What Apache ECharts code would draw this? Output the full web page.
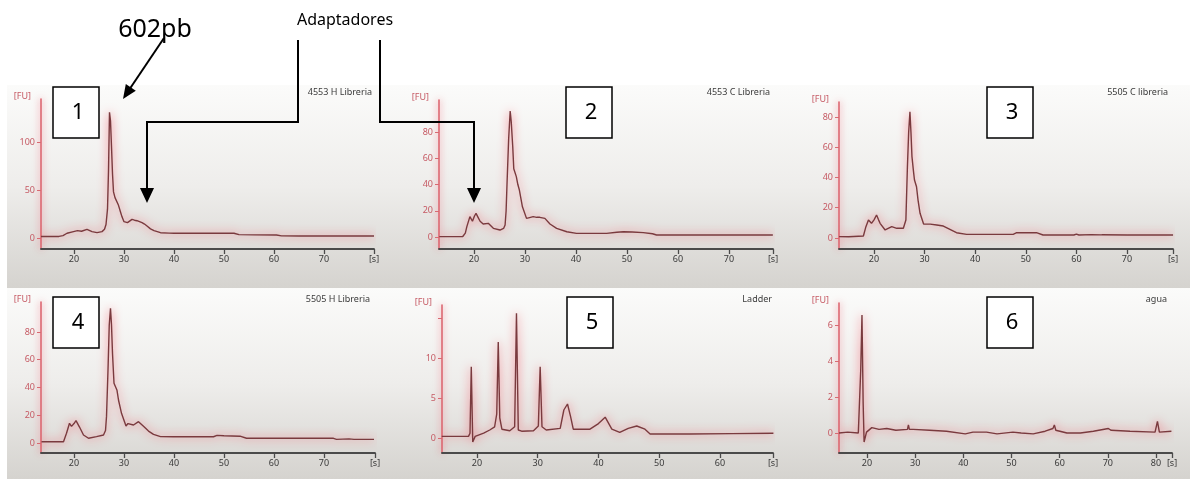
<!DOCTYPE html>
<html><head><meta charset="utf-8">
<script src="https://cdn.jsdelivr.net/npm/echarts@6/dist/echarts.min.js"></script>
<style>html,body{margin:0;padding:0;background:#fff}#c{width:1190px;height:479px}</style>
</head><body><div id="c"></div>
<script>
// ---- data ----
const titles = ['4553 H Libreria', '4553 C Libreria', '5505 C libreria', '5505 H Libreria', 'Ladder', 'agua'];
const panelNumbers = ['1', '2', '3', '4', '5', '6'];
const xTicksA = [20, 30, 40, 50, 60, 70];
const xTicksLadder = [20, 30, 40, 50, 60];
const xTicksAgua = [20, 30, 40, 50, 60, 70, 80];
const yTicks1 = [0, 50, 100];
const yTicks80 = [0, 20, 40, 60, 80];
const yTicksLadderLabels = [0, 5, 10];
const yTicksLadder = [0, 5, 10, 15];
const yTicksAgua = [0, 2, 4, 6];

const s4553H = [[13.4,1.5],[15,1.5],[17,1.6],[17.8,2.5],[18.6,4.9],[19.9,6.6],[20.7,7.6],[21.5,7],[22.6,9],[23.6,6.6],[24.6,5.5],[25.6,6.6],[26.1,9],[26.4,14],[26.7,30],[26.9,70],[27.1,131],[27.3,122],[27.5,95],[27.7,67],[27.9,48],[28.2,42],[28.5,40],[28.9,34],[29.3,27],[29.6,22],[30.0,17],[30.3,15],[30.7,16],[31.0,17.5],[31.6,19.4],[32.1,18.5],[32.6,18],[33.1,17],[33.6,16],[34.1,14.5],[34.6,12.5],[35.3,9.5],[36.0,7.6],[37.3,5.5],[39,5],[40,4.9],[45,4.9],[50,5],[52,4.9],[53,3.5],[56,3.2],[60.5,3.1],[61.5,2.2],[65,2],[70,2],[75,2],[80,2]];
const s4553C = [[13.2,0.3],[15,0.3],[17.8,0.4],[18.3,3],[18.6,7.9],[19.2,15.5],[19.7,12],[20.1,16],[20.4,18],[20.8,15],[21.2,12],[21.8,9.9],[22.8,10.4],[23.8,6.6],[25.1,5.3],[25.8,6.5],[26.1,9.1],[26.3,20],[26.5,43],[26.8,75],[27.1,96],[27.3,88],[27.6,68.8],[27.8,52],[28.0,51],[28.3,46],[28.6,40],[28.9,35.8],[29.5,23],[30.3,14.2],[30.9,14.8],[31.6,15.5],[32.3,15],[32.9,15],[33.9,14.2],[34.9,9.9],[36.2,6.6],[38.2,4],[40.1,2.8],[46,2.8],[48,3.6],[49.3,4],[51,3.8],[53.2,3.3],[55,2.5],[55.8,1.5],[60,1.5],[70,1.5],[78.6,1.5]];
const s5505C = [[13.1,0.9],[15,0.8],[17.9,1.3],[18.4,7.5],[18.9,11.9],[19.5,9.7],[20.0,12],[20.5,15.2],[20.9,12],[21.2,9.7],[22.2,5.3],[23.5,7.5],[24.5,6.4],[25.8,6.4],[26.3,11.9],[26.6,47],[26.85,70],[27.1,83.5],[27.3,70],[27.5,53.8],[27.8,44],[28.0,38.3],[28.4,33.9],[28.7,25],[29.1,16.3],[29.8,9.2],[31.1,9.2],[32.4,8.6],[33.7,7.9],[35,5.7],[36.3,3.5],[38.3,2.4],[47.5,2.4],[48.2,3.5],[52.1,3.5],[53.4,2],[59.5,2],[60,2.6],[60.5,2],[63,2.2],[65,2.1],[70,2],[79.1,2]];
const s5505H = [[13.5,0.9],[17.9,0.9],[18.5,7],[19.1,14.2],[19.5,12],[20.0,14],[20.4,16.1],[21.1,11.5],[21.9,5.8],[22.9,3.4],[24.5,4.6],[25.9,5.8],[26.3,9],[26.5,19],[26.8,52.6],[27.05,85],[27.3,97],[27.5,85],[27.7,64.6],[28.0,43],[28.4,43],[28.6,38],[28.9,31],[29.5,21.4],[30.4,12.3],[30.8,14],[31.2,15.4],[31.9,13],[32.9,15.4],[33.9,12],[34.9,8.6],[35.9,6.2],[37.3,4.6],[39.9,4.5],[47.9,4.5],[48.6,5.5],[50,5.2],[53.2,4.9],[54.5,3.4],[71.9,3.4],[72.5,2.6],[75,3],[76,2.6],[80,2.6]];
const sLadder = [[14.2,0.2],[18.6,0.2],[18.85,0.6],[19.06,8.9],[19.3,-0.5],[19.7,0.2],[21.1,0.6],[22.1,1.0],[22.9,1.4],[23.25,3],[23.5,12.0],[23.75,2.5],[24.1,1.1],[25.4,0.9],[26.2,1.4],[26.5,15.6],[26.8,1.0],[27.35,0.85],[29.3,0.9],[30.1,1.5],[30.4,8.9],[30.7,1.4],[31.4,1.0],[33.7,1.2],[34.3,3.5],[34.9,4.25],[35.4,2.7],[35.85,1.1],[38.6,1.1],[40,1.8],[41.1,2.6],[42.2,1.1],[43.5,0.7],[44.9,1.2],[46.3,1.5],[47.65,1.1],[48.5,0.5],[55,0.5],[62,0.55],[68.8,0.6]];
const sAgua = [[14.2,0],[16,0.05],[18.2,0],[18.7,3.5],[18.96,6.55],[19.2,1.7],[19.4,-0.5],[19.9,0.05],[21,0.3],[22.5,0.2],[24.1,0.25],[26,0.15],[28.4,0.2],[28.6,0.45],[28.8,0.2],[29.6,0.2],[33,0.15],[36.5,0.1],[40.4,-0.05],[42,0.05],[44.8,0.05],[47,-0.05],[50.3,0.05],[52,0],[54.5,-0.05],[57,0.1],[58.6,0.25],[58.9,0.45],[59.2,0.15],[61.5,0],[64.3,0],[67,0.1],[70.1,0.25],[70.4,0.35],[70.7,0.15],[74.6,0.1],[79.8,0.05],[80.3,0.65],[80.7,0.05],[83.2,0.1]];

// ---- layout ----
const panels = [
  {data: s4553H, g:{left:41,top:99,width:333,height:150}, x:[13.4,80], y:[-11.5,144.8], xt:xTicksA, yl:yTicks1, yt:yTicks1, tr:372, tt:88},
  {data: s4553C, g:{left:439,top:100,width:334,height:149}, x:[13.14,78.63], y:[-9.14,104.4], xt:xTicksA, yl:yTicks80, yt:yTicks80, tr:770, tt:88},
  {data: s5505C, g:{left:839,top:102,width:334,height:147}, x:[13.08,79.09], y:[-7.27,89.9], xt:xTicksA, yl:yTicks80, yt:yTicks80, tr:1168, tt:88},
  {data: s5505H, g:{left:41,top:302,width:334,height:151}, x:[13.4,80.2], y:[-7.2,101.6], xt:xTicksA, yl:yTicks80, yt:yTicks80, tr:370, tt:295},
  {data: sLadder, g:{left:442,top:305,width:331,height:148}, x:[14.24,68.73], y:[-1.875,16.625], xt:xTicksLadder, yl:yTicksLadderLabels, yt:yTicksLadder, tr:772, tt:295},
  {data: sAgua, g:{left:839,top:303,width:333,height:150}, x:[14.19,83.32], y:[-1.111,7.222], xt:xTicksAgua, yl:yTicksAgua, yt:yTicksAgua, tr:1167, tt:295}
];
const boxes = [[53,87],[566,87],[987,87],[53,297],[567,297],[987,297]];

const FONT = '"Noto Sans", "DejaVu Sans", sans-serif';
const grids = [], xAxes = [], yAxes = [], series = [], titleArr = [];
panels.forEach((p, i) => {
  grids.push(Object.assign({containLabel:false}, p.g));
  const xmax = p.x[1];
  const xtv = p.xt.concat([xmax]);
  xAxes.push({
    type:'value', gridIndex:i, min:p.x[0], max:xmax,
    axisLine:{show:true, onZero:false, lineStyle:{color:'#4a4a4a', width:1.8}},
    axisTick:{show:true, customValues:xtv, length:5, lineStyle:{color:'#4a4a4a', width:1.3}},
    axisLabel:{customValues:xtv, formatter:v => Math.abs(v - xmax) < 1e-6 ? '[s]' : String(v),
      fontSize:9, color:'#3a3a3a', margin:6, fontFamily:FONT},
    splitLine:{show:false}
  });
  yAxes.push({
    type:'value', gridIndex:i, min:p.y[0], max:p.y[1],
    name:'[FU]', nameLocation:'end', nameGap:-2,
    nameTextStyle:{color:'#c65a64', fontSize:9, align:'right', verticalAlign:'bottom', padding:[0,10,0,0], fontFamily:FONT},
    axisLine:{show:true, onZero:false, lineStyle:{color:'#dc6872', width:1.6, shadowBlur:7, shadowColor:'rgba(240,100,115,0.9)'}},
    axisTick:{show:true, customValues:p.yt, length:4, lineStyle:{color:'#d86a72'}},
    axisLabel:{customValues:p.yl, fontSize:9, color:'#c65a64', margin:6, fontFamily:FONT},
    splitLine:{show:false}
  });
  series.push({
    type:'line', xAxisIndex:i, yAxisIndex:i, data:p.data, showSymbol:false, symbol:'none',
    lineStyle:{color:'#7a3a3e', width:1.4, shadowBlur:10, shadowColor:'rgba(245,80,95,1)'},
    z:5
  });
  titleArr.push({text:titles[i], right:1190 - p.tr, top:p.tt, padding:0,
    textStyle:{fontSize:9, color:'#3a3a3a', fontWeight:'normal', fontFamily:FONT}});
});

const rowGrad = {type:'linear', x:0, y:0, x2:0, y2:1, colorStops:[
  {offset:0, color:'#fbfbfa'}, {offset:0.5, color:'#eeedeb'}, {offset:1, color:'#d5d3cf'}]};
const graphics = [
  {type:'rect', shape:{x:7, y:85, width:1183, height:203}, style:{fill:rowGrad}, z:-10, silent:true},
  {type:'rect', shape:{x:7, y:288, width:1183, height:191}, style:{fill:rowGrad}, z:-10, silent:true},
  {type:'text', x:155, y:30, style:{text:'602pb', fontSize:25, fontFamily:FONT, fill:'#000', align:'center', verticalAlign:'middle'}, z:100},
  {type:'text', x:345, y:20, style:{text:'Adaptadores', fontSize:16, fontFamily:FONT, fill:'#000', align:'center', verticalAlign:'middle'}, z:100},
  {type:'line', shape:{x1:164, y1:38, x2:129, y2:90}, style:{stroke:'#000', lineWidth:2}, z:100},
  {type:'polygon', shape:{points:[[123,99],[135.8,90.8],[125.8,84.0]]}, style:{fill:'#000'}, z:100},
  {type:'polyline', shape:{points:[[298,40],[298,122],[147,122],[147,190]]}, style:{stroke:'#000', lineWidth:2, fill:null}, z:100},
  {type:'polygon', shape:{points:[[140,188],[154,188],[147,203]]}, style:{fill:'#000'}, z:100},
  {type:'polyline', shape:{points:[[380,40],[380,122],[474,122],[474,190]]}, style:{stroke:'#000', lineWidth:2, fill:null}, z:100},
  {type:'polygon', shape:{points:[[467,188],[481,188],[474,203]]}, style:{fill:'#000'}, z:100}
];
boxes.forEach((b, i) => {
  graphics.push({type:'rect', shape:{x:b[0], y:b[1], width:46, height:51}, style:{fill:'#fff', stroke:'#000', lineWidth:1.5}, z:100});
  graphics.push({type:'text', x:b[0] + 25, y:b[1] + 26, style:{text:panelNumbers[i], fontSize:22, fontFamily:FONT, fill:'#000', align:'center', verticalAlign:'middle'}, z:101});
});

const chart = echarts.init(document.getElementById('c'), null, {renderer:'canvas'});
chart.setOption({
  animation:false,
  backgroundColor:'#ffffff',
  title:titleArr,
  grid:grids, xAxis:xAxes, yAxis:yAxes, series:series,
  graphic:graphics
});
</script>
</body></html>
